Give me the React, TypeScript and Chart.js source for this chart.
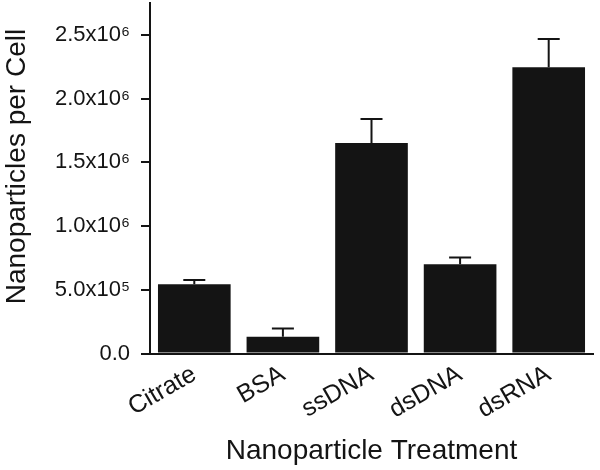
import React, { useEffect, useRef } from "react";
import { Chart, registerables } from "chart.js";

Chart.register(...registerables);

const categories = ["Citrate", "BSA", "ssDNA", "dsDNA", "dsRNA"];
const means = [544000, 132000, 1651000, 701000, 2246000];
const errors = [32000, 65000, 188000, 52000, 222000];
const yTickValues = [0, 500000, 1000000, 1500000, 2000000, 2500000];
const yTickLabels = ["0.0", "5.0x10\u2075", "1.0x10\u2076", "1.5x10\u2076", "2.0x10\u2076", "2.5x10\u2076"];
const xTitle = "Nanoparticle Treatment";
const yTitle = "   Nanoparticles per Cell";

const FONT = "'Liberation Sans', Arial, Helvetica, sans-serif";
const INK = "#141414";

const errorBarPlugin = {
  id: "errorBars",
  afterDatasetsDraw(chart: any) {
    const meta = chart.getDatasetMeta(0);
    const yScale = chart.scales.y;
    const ctx = chart.ctx;
    ctx.save();
    ctx.strokeStyle = INK;
    ctx.lineWidth = 2;
    meta.data.forEach((bar: any, i: number) => {
      const x = bar.x;
      const yTop = yScale.getPixelForValue(means[i] + errors[i]);
      const yBase = bar.y;
      ctx.beginPath();
      ctx.moveTo(x, yBase);
      ctx.lineTo(x, yTop);
      ctx.moveTo(x - 11, yTop);
      ctx.lineTo(x + 11, yTop);
      ctx.stroke();
    });
    ctx.restore();
  },
};

export default function App() {
  const ref = useRef<HTMLCanvasElement | null>(null);
  useEffect(() => {
    if (!ref.current) return;
    const chart = new Chart(ref.current, {
      type: "bar",
      data: {
        labels: categories,
        datasets: [
          {
            data: means,
            backgroundColor: INK,
            borderWidth: 0,
            barPercentage: 0.82,
            categoryPercentage: 1,
          },
        ],
      },
      options: {
        responsive: false,
        animation: false,
        layout: { padding: { top: 3, right: 7, left: 0, bottom: 0 } },
        plugins: {
          legend: { display: false },
          tooltip: { enabled: false },
        },
        scales: {
          x: {
            grid: { display: false, drawTicks: false },
            border: { display: true, color: INK, width: 2 },
            ticks: {
              color: INK,
              font: { family: FONT, size: 25 },
              minRotation: 30,
              maxRotation: 30,
              padding: 6,
              autoSkip: false,
            },
            title: {
              display: true,
              text: xTitle,
              color: INK,
              font: { family: FONT, size: 28 },
              padding: { top: 0, bottom: 2 },
            },
            afterFit: (scale: any) => {
              scale.height = 116.5;
              scale.paddingLeft = 0;
              scale.paddingRight = 0;
            },
          },
          y: {
            min: 0,
            max: 2750000,
            bounds: "data",
            grid: {
              display: true,
              drawOnChartArea: false,
              drawTicks: true,
              tickLength: 9,
              color: INK,
              lineWidth: 2,
            },
            border: { display: true, color: INK, width: 2 },
            afterBuildTicks: (scale: any) => {
              scale.ticks = yTickValues.map((v) => ({ value: v }));
            },
            ticks: {
              autoSkip: false,
              color: INK,
              padding: 11,
              font: { family: FONT, size: 22 },
              callback: (_value: any, index: number) => yTickLabels[index] ?? "",
            },
            title: {
              display: true,
              text: yTitle,
              color: INK,
              font: { family: FONT, size: 28 },
              padding: { top: 0, bottom: 0 },
            },
            afterFit: (scale: any) => {
              scale.width = 150;
              scale.paddingTop = 0;
              scale.paddingBottom = 0;
            },
          },
        },
      },
      plugins: [errorBarPlugin],
    });
    return () => chart.destroy();
  }, []);
  return (
    <div style={{ position: "absolute", left: 0, top: 0, width: 600, height: 470 }}>
      <canvas ref={ref} width={600} height={470} />
    </div>
  );
}
